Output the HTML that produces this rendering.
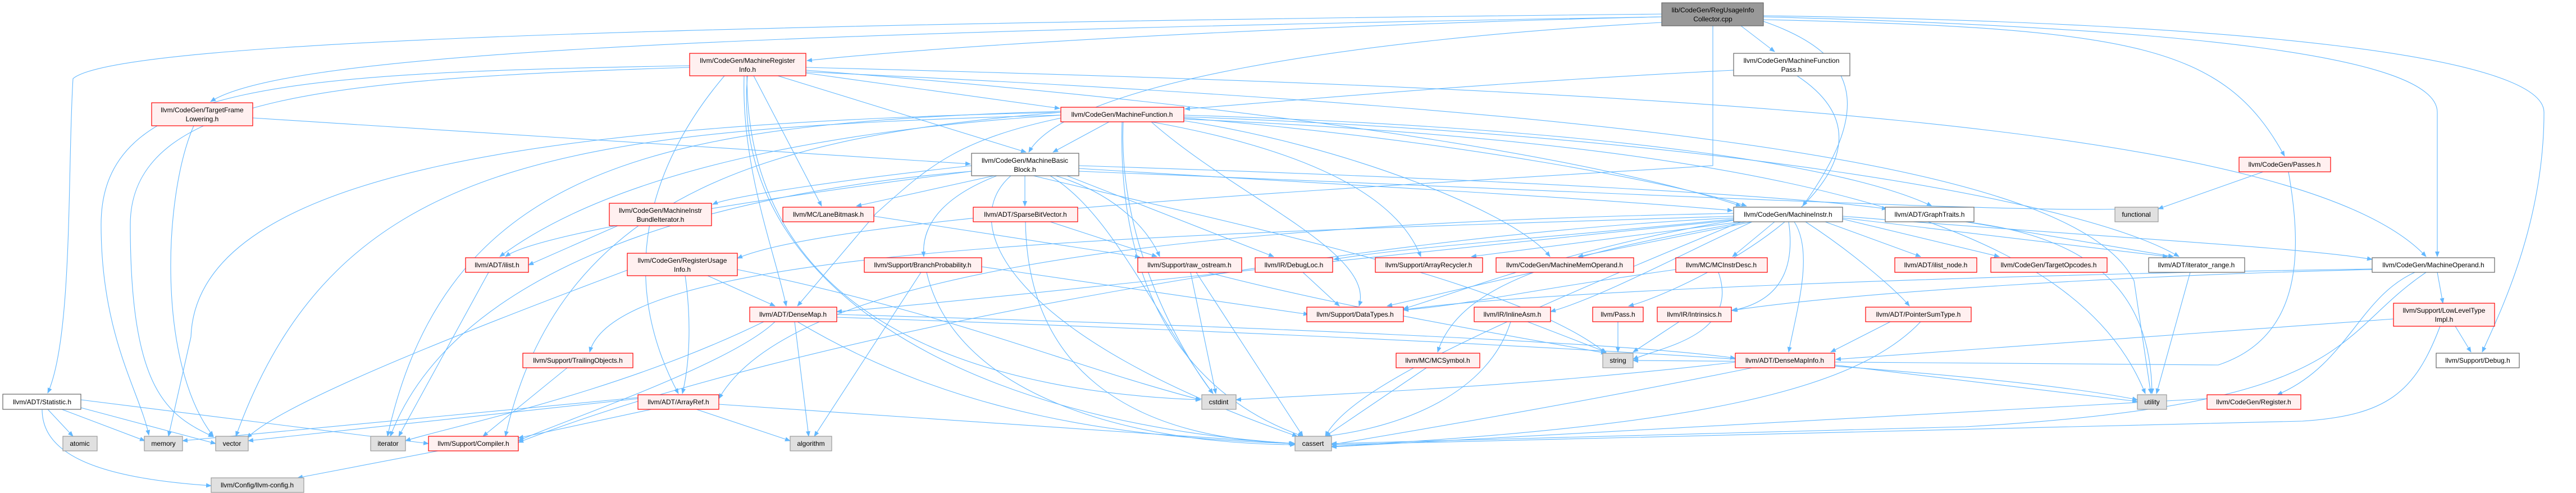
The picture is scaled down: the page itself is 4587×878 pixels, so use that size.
<!DOCTYPE html>
<html><head><meta charset="utf-8">
<style>
html,body{margin:0;padding:0;background:#fff;}
svg{display:block;}
.e path{fill:none;stroke:#63b8ff;stroke-width:1.1;}
text{font-family:"Liberation Sans",sans-serif;font-size:12px;fill:#000;text-anchor:middle;}
.r{fill:#fff0f0;stroke:#ff0000;stroke-width:1.2;}
.g{fill:#e0e0e0;stroke:#999;stroke-width:1.2;}
.w{fill:#fff;stroke:#666;stroke-width:1.2;}
.k{fill:#999;stroke:#666;stroke-width:1.2;}
</style></head>
<body>
<svg width="4587" height="878" viewBox="0 0 4587 878" xmlns="http://www.w3.org/2000/svg">
<defs><marker id="a" markerWidth="10" markerHeight="8" refX="9" refY="4" orient="auto" markerUnits="userSpaceOnUse"><path d="M0,0 L10,4 L0,8 z" fill="#63b8ff"/></marker></defs>
<g class="e" marker-end="url(#a)">
<path d="M2959,30 C2500,40 1800,70 1437,108"/>
<path d="M3100,46 L3160,92"/>
<path d="M3140,38 C3320,100 3330,200 3210,367"/>
<path d="M2959,30 C1200,60 500,100 375,181"/>
<path d="M2959,25 C1000,45 200,80 130,140 C120,300 130,600 85,700"/>
<path d="M3050,46 L3050,295 C2500,330 1500,380 1313,460"/>
<path d="M2959,40 C2400,70 1900,150 1832,271"/>
<path d="M3140,30 C3900,50 4340,100 4340,200 L4340,457"/>
<path d="M3140,35 C3800,50 3960,80 4068,278"/>
<path d="M3140,28 C4000,40 4530,100 4530,200 C4530,400 4450,560 4420,627"/>
<path d="M3087,125 C2600,150 2300,180 2110,194"/>
<path d="M3200,135 C3450,300 3000,520 2900,545"/>
<path d="M1435,130 L1887,193"/>
<path d="M1385,135 L1827,271"/>
<path d="M1342,135 L1463,367"/>
<path d="M1325,135 C1320,300 1380,450 1400,545"/>
<path d="M1290,135 C1150,300 1100,500 1208,701"/>
<path d="M1435,120 C3000,160 4100,220 4320,457"/>
<path d="M1435,125 C2400,200 2900,300 3100,367"/>
<path d="M1228,117 C500,130 180,150 180,400 C180,600 250,700 265,775"/>
<path d="M1228,120 C600,140 232,170 232,400 C232,700 300,740 380,778"/>
<path d="M1331,135 C1300,500 1700,750 2304,790"/>
<path d="M1330,135 C1330,600 1800,700 2138,712"/>
<path d="M1435,128 C3000,200 3700,300 3800,500 L3830,701"/>
<path d="M450,210 L1728,292"/>
<path d="M345,224 C290,350 280,650 380,777"/>
<path d="M1975,217 L1875,271"/>
<path d="M1890,210 C1700,250 1650,300 1560,380 L1420,545"/>
<path d="M1889,205 C1500,230 1100,300 890,457"/>
<path d="M1889,200 C1400,240 1000,330 900,777"/>
<path d="M1889,198 C1200,220 800,280 690,777"/>
<path d="M1889,205 C1000,230 600,280 420,777"/>
<path d="M1889,200 C1000,220 350,300 340,600 L300,777"/>
<path d="M1998,217 C1990,500 2100,700 2320,777"/>
<path d="M2000,217 C1990,450 2120,650 2160,701"/>
<path d="M2108,210 C2600,250 3000,330 3110,367"/>
<path d="M2108,215 C2400,260 2700,380 2760,457"/>
<path d="M2050,217 C2400,280 2500,380 2530,457"/>
<path d="M2108,205 C2900,230 3300,300 3440,367"/>
<path d="M2108,208 C3000,240 3700,350 3880,457"/>
<path d="M2108,212 C3200,260 3700,400 3820,701"/>
<path d="M2050,217 C2200,350 2450,450 2420,545"/>
<path d="M1730,295 C1500,320 1300,350 1269,364"/>
<path d="M1770,313 L1525,367"/>
<path d="M1825,313 L1825,367"/>
<path d="M1775,313 C1680,350 1640,400 1645,457"/>
<path d="M1880,313 C2000,350 2050,420 2065,457"/>
<path d="M1900,313 L2268,457"/>
<path d="M1730,305 C1300,360 950,420 900,457"/>
<path d="M1921,295 C2700,320 3200,350 3360,372"/>
<path d="M1921,300 C2400,330 2800,350 3085,375"/>
<path d="M1921,305 C2800,340 3600,380 3780,372"/>
<path d="M1800,313 C1700,400 1800,600 2310,777"/>
<path d="M1870,313 C1980,380 2050,550 2160,701"/>
<path d="M1730,305 C1200,350 800,500 695,777"/>
<path d="M1840,313 C2200,400 2700,500 2860,629"/>
<path d="M1100,402 L941,472"/>
<path d="M1260,491 L1380,545"/>
<path d="M1220,491 C1230,560 1230,640 1215,701"/>
<path d="M1120,480 C800,600 500,720 440,780"/>
<path d="M1313,480 C1700,560 1900,650 2138,712"/>
<path d="M1556,385 L2030,458"/>
<path d="M1870,395 L2060,457"/>
<path d="M1826,395 C1830,650 2000,780 2306,790"/>
<path d="M1748,475 L2330,560"/>
<path d="M1640,485 L1450,777"/>
<path d="M1650,485 C1700,700 2000,790 2306,792"/>
<path d="M2120,485 L2165,701"/>
<path d="M2130,485 L2320,777"/>
<path d="M2150,485 C2400,550 2700,600 2860,629"/>
<path d="M2320,485 L2385,545"/>
<path d="M2730,485 L2470,545"/>
<path d="M3060,485 C3100,600 2950,620 2908,640"/>
<path d="M2984,480 C2700,520 2600,545 2499,552"/>
<path d="M3281,385 C3700,420 4100,440 4224,462"/>
<path d="M3120,395 L2810,457"/>
<path d="M3100,395 L2620,457"/>
<path d="M3160,395 L3085,457"/>
<path d="M3087,390 C2800,420 2500,440 2375,462"/>
<path d="M3250,395 L3420,457"/>
<path d="M3281,390 L3560,457"/>
<path d="M3281,388 L3860,457"/>
<path d="M3215,395 C3300,450 3380,520 3400,545"/>
<path d="M3195,395 C3230,450 3200,550 3185,627"/>
<path d="M3120,395 C3000,450 2850,530 2761,555"/>
<path d="M3185,395 C3200,500 3150,540 3085,553"/>
<path d="M3110,395 C2800,450 2600,500 2560,627"/>
<path d="M3090,392 C2800,440 2600,520 2499,550"/>
<path d="M3087,385 C2000,420 1100,440 1050,627"/>
<path d="M3087,380 C2000,400 1400,500 1280,710"/>
<path d="M3100,395 C2600,600 2400,700 2360,777"/>
<path d="M3087,392 C2500,450 1700,540 1490,555"/>
<path d="M3087,388 C2400,420 1400,600 923,788"/>
<path d="M4340,485 L4350,540"/>
<path d="M4300,485 C4200,530 4180,650 4055,703"/>
<path d="M4224,480 C3800,490 3300,520 3083,553"/>
<path d="M4224,479 C3500,490 2700,520 2499,552"/>
<path d="M4320,485 C4150,600 4200,720 3500,760 L2371,790"/>
<path d="M4372,581 L4400,627"/>
<path d="M4262,568 C3800,600 3400,630 3269,640"/>
<path d="M4345,581 C4300,700 4250,740 4100,750 L2371,792"/>
<path d="M3370,571 L3260,627"/>
<path d="M3420,573 C3300,700 3000,760 2371,795"/>
<path d="M3120,655 C2800,720 2500,770 2371,792"/>
<path d="M3267,650 L3806,715"/>
<path d="M3090,645 C2700,690 2400,700 2201,712"/>
<path d="M3930,710 L2371,796"/>
<path d="M2990,573 L2908,627"/>
<path d="M2720,573 L2860,627"/>
<path d="M2690,573 C2650,700 2500,760 2360,777"/>
<path d="M2881,573 L2881,627"/>
<path d="M2540,655 L2360,777"/>
<path d="M3900,485 L3840,701"/>
<path d="M3500,395 L3870,457"/>
<path d="M3500,395 C3700,420 3830,500 3832,701"/>
<path d="M4030,306 L3843,372"/>
<path d="M4075,306 C4100,450 4100,600 3950,650 L2908,642"/>
<path d="M870,485 L710,777"/>
<path d="M1010,655 L860,777"/>
<path d="M1490,560 C2200,580 2900,610 3090,638"/>
<path d="M1380,573 C1300,650 1000,750 923,785"/>
<path d="M1415,573 L1440,777"/>
<path d="M1420,573 C1700,740 2000,780 2306,790"/>
<path d="M1360,573 C1100,700 800,760 722,785"/>
<path d="M1490,565 C2500,600 3500,650 3806,712"/>
<path d="M1160,729 L923,780"/>
<path d="M1136,710 L442,785"/>
<path d="M1136,708 L325,785"/>
<path d="M1240,729 L1407,785"/>
<path d="M1280,720 L2306,790"/>
<path d="M85,729 L130,777"/>
<path d="M110,729 L258,785"/>
<path d="M140,725 L384,790"/>
<path d="M144,712 L763,790"/>
<path d="M75,729 C75,800 150,850 376,865"/>
<path d="M780,803 L530,851"/>
</g>
<g>
<rect class="k" x="2959" y="5" width="181" height="41"/><text x="3050" y="22">lib/CodeGen/RegUsageInfo</text><text x="3050" y="38">Collector.cpp</text>
<rect class="r" x="1228" y="95" width="207" height="40"/><text x="1331" y="112">llvm/CodeGen/MachineRegister</text><text x="1331" y="128">Info.h</text>
<rect class="w" x="3087" y="95" width="207" height="40"/><text x="3190" y="112">llvm/CodeGen/MachineFunction</text><text x="3190" y="128">Pass.h</text>
<rect class="r" x="270" y="183" width="180" height="41"/><text x="360" y="200">llvm/CodeGen/TargetFrame</text><text x="360" y="216">Lowering.h</text>
<rect class="r" x="1889" y="191" width="219" height="26"/><text x="1998" y="208">llvm/CodeGen/MachineFunction.h</text>
<rect class="r" x="3987" y="280" width="163" height="26"/><text x="4068" y="297">llvm/CodeGen/Passes.h</text>
<rect class="w" x="1730" y="273" width="191" height="40"/><text x="1825" y="290">llvm/CodeGen/MachineBasic</text><text x="1825" y="306">Block.h</text>
<rect class="r" x="1085" y="362" width="182" height="40"/><text x="1176" y="379">llvm/CodeGen/MachineInstr</text><text x="1176" y="395">BundleIterator.h</text>
<rect class="r" x="1394" y="369" width="162" height="26"/><text x="1475" y="386">llvm/MC/LaneBitmask.h</text>
<rect class="r" x="1733" y="369" width="186" height="26"/><text x="1826" y="386">llvm/ADT/SparseBitVector.h</text>
<rect class="w" x="3087" y="369" width="194" height="26"/><text x="3184" y="386">llvm/CodeGen/MachineInstr.h</text>
<rect class="w" x="3357" y="369" width="158" height="26"/><text x="3436" y="386">llvm/ADT/GraphTraits.h</text>
<rect class="g" x="3766" y="369" width="77" height="26"/><text x="3804" y="386">functional</text>
<rect class="r" x="829" y="459" width="112" height="26"/><text x="885" y="476">llvm/ADT/ilist.h</text>
<rect class="r" x="1117" y="451" width="196" height="40"/><text x="1215" y="468">llvm/CodeGen/RegisterUsage</text><text x="1215" y="484">Info.h</text>
<rect class="r" x="1539" y="459" width="209" height="26"/><text x="1643" y="476">llvm/Support/BranchProbability.h</text>
<rect class="r" x="2026" y="459" width="185" height="26"/><text x="2118" y="476">llvm/Support/raw_ostream.h</text>
<rect class="r" x="2235" y="459" width="138" height="26"/><text x="2304" y="476">llvm/IR/DebugLoc.h</text>
<rect class="r" x="2449" y="459" width="191" height="26"/><text x="2544" y="476">llvm/Support/ArrayRecycler.h</text>
<rect class="r" x="2664" y="459" width="245" height="26"/><text x="2786" y="476">llvm/CodeGen/MachineMemOperand.h</text>
<rect class="r" x="2984" y="459" width="163" height="26"/><text x="3065" y="476">llvm/MC/MCInstrDesc.h</text>
<rect class="r" x="3374" y="459" width="146" height="26"/><text x="3447" y="476">llvm/ADT/ilist_node.h</text>
<rect class="r" x="3545" y="459" width="207" height="26"/><text x="3648" y="476">llvm/CodeGen/TargetOpcodes.h</text>
<rect class="w" x="3826" y="459" width="171" height="26"/><text x="3911" y="476">llvm/ADT/iterator_range.h</text>
<rect class="w" x="4224" y="459" width="218" height="26"/><text x="4333" y="476">llvm/CodeGen/MachineOperand.h</text>
<rect class="r" x="1335" y="547" width="155" height="26"/><text x="1412" y="564">llvm/ADT/DenseMap.h</text>
<rect class="r" x="2327" y="547" width="172" height="26"/><text x="2413" y="564">llvm/Support/DataTypes.h</text>
<rect class="r" x="2625" y="547" width="136" height="26"/><text x="2693" y="564">llvm/IR/InlineAsm.h</text>
<rect class="r" x="2836" y="547" width="90" height="26"/><text x="2881" y="564">llvm/Pass.h</text>
<rect class="r" x="2951" y="547" width="132" height="26"/><text x="3017" y="564">llvm/IR/Intrinsics.h</text>
<rect class="r" x="3322" y="547" width="188" height="26"/><text x="3416" y="564">llvm/ADT/PointerSumType.h</text>
<rect class="r" x="4262" y="540" width="180" height="41"/><text x="4352" y="557">llvm/Support/LowLevelType</text><text x="4352" y="573">Impl.h</text>
<rect class="r" x="931" y="629" width="196" height="26"/><text x="1029" y="646">llvm/Support/TrailingObjects.h</text>
<rect class="r" x="2486" y="629" width="149" height="26"/><text x="2560" y="646">llvm/MC/MCSymbol.h</text>
<rect class="g" x="2854" y="629" width="54" height="26"/><text x="2881" y="646">string</text>
<rect class="r" x="3090" y="629" width="177" height="26"/><text x="3178" y="646">llvm/ADT/DenseMapInfo.h</text>
<rect class="w" x="4338" y="629" width="148" height="26"/><text x="4412" y="646">llvm/Support/Debug.h</text>
<rect class="w" x="5" y="702" width="139" height="27"/><text x="75" y="720">llvm/ADT/Statistic.h</text>
<rect class="r" x="1136" y="703" width="144" height="26"/><text x="1208" y="720">llvm/ADT/ArrayRef.h</text>
<rect class="g" x="2140" y="703" width="61" height="26"/><text x="2170" y="720">cstdint</text>
<rect class="g" x="3806" y="703" width="52" height="26"/><text x="3832" y="720">utility</text>
<rect class="r" x="3930" y="703" width="167" height="26"/><text x="4013" y="720">llvm/CodeGen/Register.h</text>
<rect class="g" x="112" y="777" width="61" height="26"/><text x="142" y="794">atomic</text>
<rect class="g" x="257" y="777" width="68" height="26"/><text x="291" y="794">memory</text>
<rect class="g" x="384" y="777" width="58" height="26"/><text x="413" y="794">vector</text>
<rect class="g" x="660" y="777" width="62" height="26"/><text x="691" y="794">iterator</text>
<rect class="r" x="763" y="777" width="160" height="26"/><text x="843" y="794">llvm/Support/Compiler.h</text>
<rect class="g" x="1407" y="777" width="74" height="26"/><text x="1444" y="794">algorithm</text>
<rect class="g" x="2306" y="777" width="65" height="26"/><text x="2338" y="794">cassert</text>
<rect class="g" x="376" y="851" width="165" height="26"/><text x="458" y="868">llvm/Config/llvm-config.h</text>
</g>
</svg>
</body></html>
